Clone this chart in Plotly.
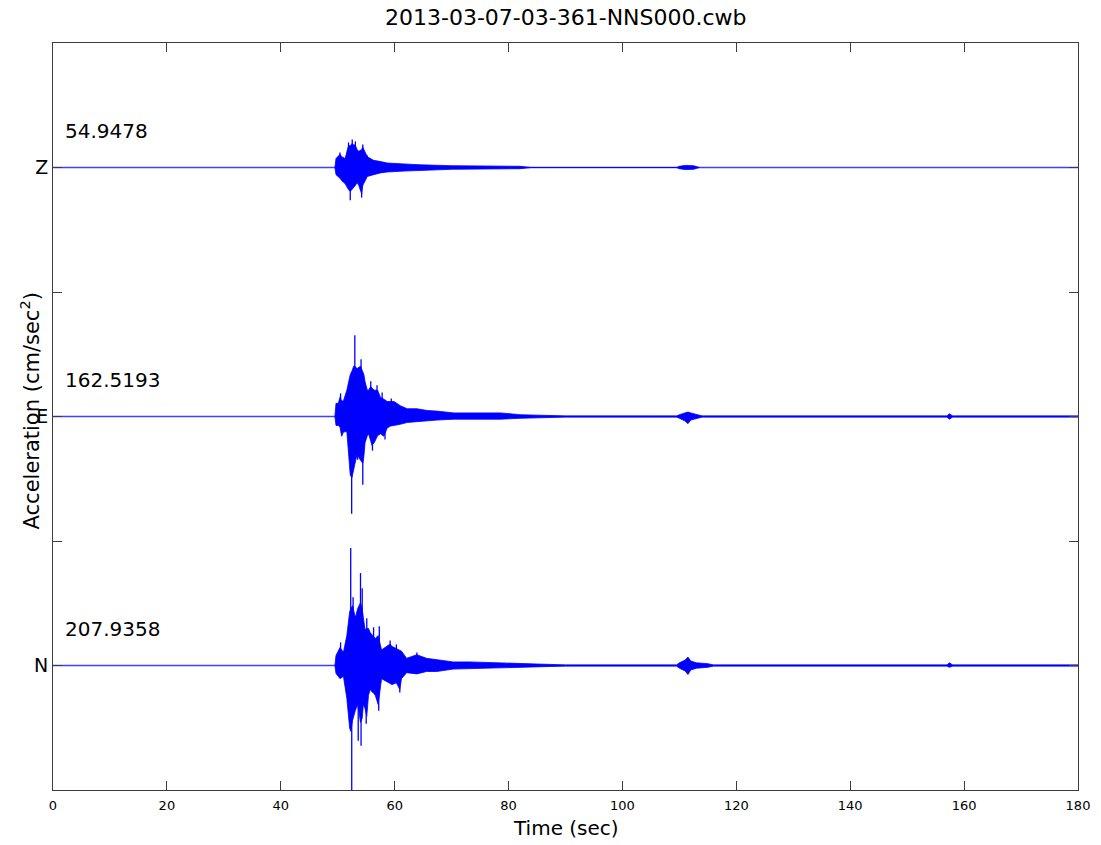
import plotly.graph_objects as go

# ---------------- data (cm/sec^2) ----------------
TITLE = "2013-03-07-03-361-NNS000.cwb"
DURATION = [0, 180]
CHANNELS = ["N", "E", "Z"]          # bottom to top
PEAKS = [207.9358, 162.5193, 54.9478]

# envelope of each record: time (s), upper excursion, lower excursion (magnitude)
N_T = [49.5, 49.7, 50.4, 51.0, 51.6, 52.1, 52.3, 52.6, 53.1, 53.5, 54.0, 54.3, 54.5, 54.8, 55.1,
       55.4, 55.7, 56.0, 56.3, 56.6, 57.1, 57.7, 58.3, 58.6, 59.2, 59.5, 60.3, 60.9, 61.2, 62.1,
       63.9, 65.6, 67.4, 70.3, 73.2, 77.3, 82.0, 90.0, 109.5, 110.0, 111.0, 111.5, 112.0, 113.0,
       115.0, 116.0, 157.0, 157.4, 158.0, 180.0]
N_HI = [0, 16.8, 30.0, 22.0, 50.0, 90.0, 95.0, 100.0, 80.0, 95.0, 105.0, 95.0, 80.0, 60.0, 62.0,
        62.0, 55.0, 52.0, 48.0, 45.0, 50.0, 26.0, 30.0, 32.0, 36.0, 32.0, 28.0, 26.0, 24.0, 12.0,
        18.0, 12.0, 10.0, 6.0, 6.0, 4.5, 3.0, 1.0, 1.0, 4.5, 9.0, 14.0, 7.5, 4.5,
        3.0, 1.0, 1.0, 4.5, 1.0, 1.0]
N_LO = [0, 13.4, 22.0, 18.0, 55.0, 105.0, 110.0, 92.0, 75.0, 65.0, 95.0, 88.0, 65.0, 72.0, 85.0,
        50.0, 40.0, 44.0, 46.0, 50.0, 65.0, 22.0, 25.0, 27.0, 30.0, 32.0, 29.0, 40.0, 22.0, 12.0,
        14.0, 10.0, 10.0, 6.0, 4.5, 4.5, 3.0, 1.0, 1.0, 4.5, 9.0, 15.0, 7.5, 4.5,
        3.0, 1.0, 1.0, 3.0, 1.0, 1.0]
N_SPIKE_T = [50.5, 52.28, 52.46, 52.7, 53.6, 54.0, 54.1, 54.3, 55.0, 55.1, 56.3, 57.2, 57.3,
             59.2, 60.3, 60.9, 63.9]
N_SPIKE_V = [38.6, 196.2, -207.9, 114.0, -125.8, 154.3, -134.2, 129.1, -97.3, 78.8, 63.7, -75.5,
             65.4, 41.9, 35.2, -45.3, 21.8]

E_T = [49.5, 49.7, 50.1, 50.4, 50.7, 51.0, 51.6, 52.2, 52.5, 52.8, 53.0, 53.4, 54.0, 54.4, 54.6,
       54.8, 55.2, 55.4, 55.8, 56.0, 56.4, 57.0, 57.5, 58.1, 58.7, 59.3, 59.9, 61.0, 62.2, 63.9,
       65.7, 67.4, 70.4, 73.9, 78.6, 82.0, 90.0, 105.0, 109.5, 110.0, 111.0, 111.5, 112.0, 113.0,
       114.0, 157.0, 157.4, 158.0, 180.0]
E_HI = [0, 22.0, 22.0, 32.0, 26.0, 26.0, 44.0, 70.0, 76.0, 84.0, 84.0, 80.0, 84.0, 76.0, 70.0,
        58.0, 44.0, 44.0, 50.0, 48.0, 44.0, 44.0, 32.0, 29.0, 25.0, 25.0, 25.0, 18.0, 13.0, 13.0,
        10.0, 9.0, 6.0, 6.0, 6.0, 3.0, 1.0, 1.0, 1.0, 3.0, 6.0, 7.5, 6.0, 3.0,
        1.0, 1.0, 4.5, 1.0, 1.0]
E_LO = [0, 15.0, 15.0, 18.0, 33.0, 26.0, 25.0, 98.0, 102.0, 88.0, 80.0, 63.0, 73.0, 78.0, 66.0,
        44.0, 32.0, 29.0, 41.0, 48.0, 44.0, 32.0, 29.0, 33.0, 19.0, 16.0, 15.0, 13.0, 10.0, 9.0,
        7.5, 6.0, 4.5, 4.5, 4.5, 3.0, 1.0, 1.0, 1.0, 3.0, 7.5, 12.0, 6.0, 3.0,
        1.0, 1.0, 4.5, 1.0, 1.0]
E_SPIKE_T = [50.5, 52.45, 53.0, 53.5, 54.1, 54.4, 55.8, 56.1, 56.9, 57.8, 58.3, 59.4]
E_SPIKE_V = [38.6, -162.5, 135.8, -72.1, 95.6, -114.0, 58.7, -57.0, 52.0, 40.2, -38.6, 30.2]

Z_T = [49.5, 49.7, 50.4, 50.7, 51.3, 51.6, 51.9, 52.2, 52.5, 52.8, 53.1, 53.4, 53.7, 54.2, 54.4,
       55.2, 56.3, 57.5, 58.7, 61.6, 64.5, 70.0, 82.0, 84.0, 109.5, 110.0, 111.0, 112.5, 113.5]
Z_HI = [0, 15.0, 22.0, 18.0, 15.0, 27.0, 37.0, 36.0, 40.0, 38.0, 37.0, 30.0, 27.0, 30.0, 34.0,
        18.0, 12.0, 10.0, 7.5, 6.0, 4.5, 3.0, 2.0, 0, 0, 2.0, 3.5, 3.0, 0]
Z_LO = [0, 12.0, 18.0, 22.0, 27.0, 33.0, 37.0, 40.0, 37.0, 33.0, 30.0, 25.0, 30.0, 44.0, 30.0,
        15.0, 12.0, 9.0, 7.5, 6.0, 4.5, 3.0, 2.0, 0, 0, 2.0, 3.5, 3.0, 0]
Z_SPIKE_T = [50.4, 51.9, 52.2, 52.55, 53.1, 54.2, 54.4, 55.2]
Z_SPIKE_V = [25.2, 41.9, -54.9, 46.9, 43.6, -50.3, 38.6, 20.1]

X_TICKS = list(range(0, 181, 20))

# ---------------- figure ----------------
BLUE = "#0000ff"
BASE_BLUE = "#4040ff"
AXC = "#3c3c3c"
FONT = "DejaVu Sans, Liberation Sans, Arial, sans-serif"
scale = 2 * max(PEAKS)   # largest record fills half the spacing between channels

records = [
    (N_T, N_HI, N_LO, N_SPIKE_T, N_SPIKE_V),
    (E_T, E_HI, E_LO, E_SPIKE_T, E_SPIKE_V),
    (Z_T, Z_HI, Z_LO, Z_SPIKE_T, Z_SPIKE_V),
]

fig = go.Figure()
for i, (t, hi, lo, st, sv) in enumerate(records):
    base = i + 1
    fig.add_trace(go.Scatter(x=DURATION, y=[base, base], mode="lines",
                             line=dict(color=BASE_BLUE, width=1.4), hoverinfo="skip",
                             showlegend=False))
    xs = list(t) + list(t[::-1])
    ys = [base + v / scale for v in hi] + [base - v / scale for v in lo[::-1]]
    fig.add_trace(go.Scatter(x=xs, y=ys, mode="lines", fill="toself", fillcolor=BLUE,
                             line=dict(color=BLUE, width=0.8), hoverinfo="skip", showlegend=False))
    sx, sy = [], []
    for tt, vv in zip(st, sv):
        sx += [tt, tt, None]
        sy += [base, base + vv / scale, None]
    fig.add_trace(go.Scatter(x=sx, y=sy, mode="lines", line=dict(color=BLUE, width=1.3),
                             hoverinfo="skip", showlegend=False))
    fig.add_annotation(x=1.75, y=base + 0.147, xref="x", yref="y", text=f"{PEAKS[i]:.4f}",
                       showarrow=False, xanchor="left", yanchor="middle",
                       font=dict(family=FONT, size=20, color="black"))

fig.add_annotation(x=0.5, y=1.0348, xref="paper", yref="paper", text=TITLE, showarrow=False,
                   xanchor="center", yanchor="middle", font=dict(family=FONT, size=22, color="black"))
fig.add_annotation(x=0.5, y=-0.0509, xref="paper", yref="paper", text="Time (sec)", showarrow=False,
                   xanchor="center", yanchor="middle", font=dict(family=FONT, size=20, color="black"))
fig.add_annotation(x=-0.0225, y=0.508, xref="paper", yref="paper",
                   text="Acceleration (cm/sec<sup>2</sup>)", showarrow=False, textangle=-90,
                   xanchor="center", yanchor="middle", font=dict(family=FONT, size=21, color="black"))

fig.update_layout(
    width=1101, height=845,
    margin=dict(l=53, r=23, t=43, b=55, autoexpand=False),
    paper_bgcolor="white", plot_bgcolor="white",
    font=dict(family=FONT, color="black"),
    showlegend=False,
)
fig.update_xaxes(range=DURATION, tickvals=X_TICKS, ticktext=[str(v) for v in X_TICKS],
                 showgrid=False, zeroline=False, showline=True, linecolor=AXC, linewidth=1,
                 mirror="ticks", ticks="inside", ticklen=9, tickcolor=AXC, tickwidth=1,
                 tickfont=dict(family=FONT, size=13, color="black"), ticklabelstandoff=3,
                 automargin=False)
fig.update_yaxes(range=[0.5, 3.5], tickvals=[1, 1.5, 2, 2.5, 3],
                 ticktext=[CHANNELS[0], "", CHANNELS[1], "", CHANNELS[2]],
                 showgrid=False, zeroline=False, showline=True, linecolor=AXC, linewidth=1,
                 mirror="ticks", ticks="inside", ticklen=9, tickcolor=AXC, tickwidth=1,
                 tickfont=dict(family=FONT, size=19, color="black"), automargin=False)

fig.write_html("out.html",
               config={"displayModeBar": False},
               post_script="document.body.style.margin='0';"
                           "document.documentElement.style.overflow='hidden';")
